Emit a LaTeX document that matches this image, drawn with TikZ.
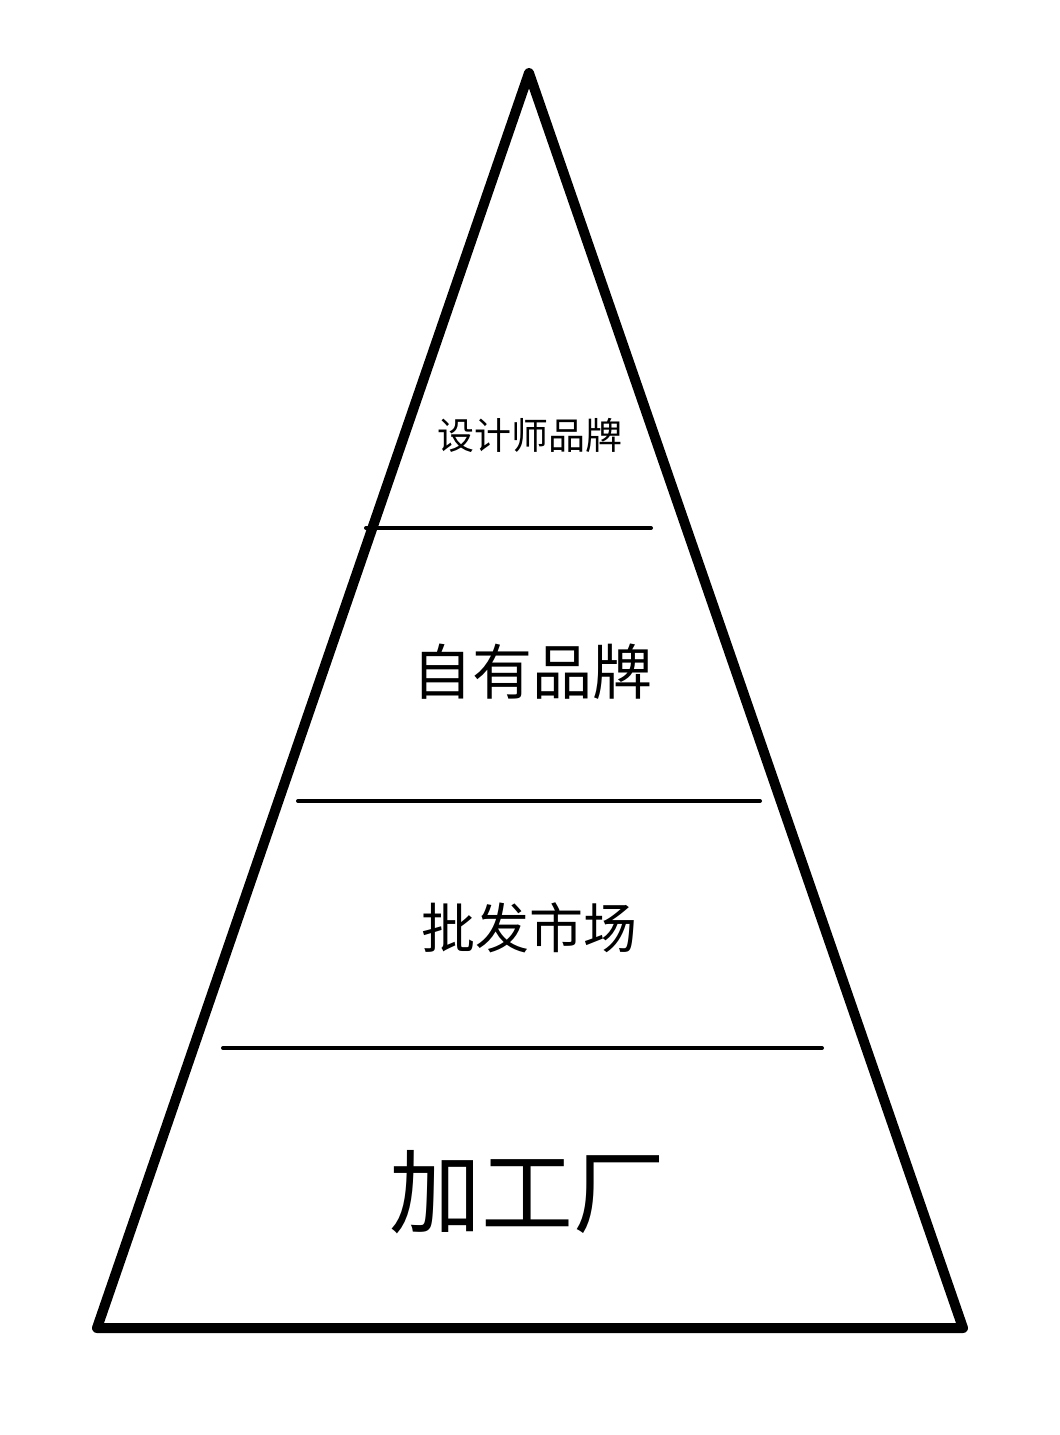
\documentclass[tikz,border=0pt]{standalone}
\usepackage{fontspec}
\newfontfamily\cjk{Noto Sans CJK SC}
\usepackage{tikz}
\usetikzlibrary{positioning}
\tikzset{
  edge/.style={line width=5pt, line join=round, line cap=round},
  divider/.style={line width=2pt, line cap=round},
  label/.style={inner sep=0pt, font=\cjk}
}

\begin{document}
\begin{tikzpicture}[x=0.5pt, y=-0.5pt]
\useasboundingbox[fill=white] (0,0) rectangle (1060,1435);

% Pyramid outline
\coordinate (apex) at (529,73);
\coordinate (left) at (97,1328);
\coordinate (right) at (963,1328);
\draw[edge] (apex) -- (left) -- (right) -- cycle;

% Dividers
\coordinate (d1l) at (366,528);
\coordinate (d1r) at (651,528);
\coordinate (d2l) at (298,801);
\coordinate (d2r) at (760,801);
\coordinate (d3l) at (223,1048);
\coordinate (d3r) at (822,1048);
\draw[divider] (d1l) -- (d1r);
\draw[divider] (d2l) -- (d2r);
\draw[divider] (d3l) -- (d3r);

% Levels
\node[label, font=\cjk\fontsize{18.5pt}{20pt}\selectfont] (designer) at (530,435) {设计师品牌};
\node[label, font=\cjk\fontsize{30pt}{32pt}\selectfont] (ownbrand) at (532,672) {自有品牌};
\node[label, font=\cjk\fontsize{27pt}{29pt}\selectfont] (wholesale) at (529,928) {批发市场};
\node[label, font=\cjk\fontsize{46pt}{48pt}\selectfont] (factory) at (527,1192) {加工厂};
\end{tikzpicture}
\end{document}
